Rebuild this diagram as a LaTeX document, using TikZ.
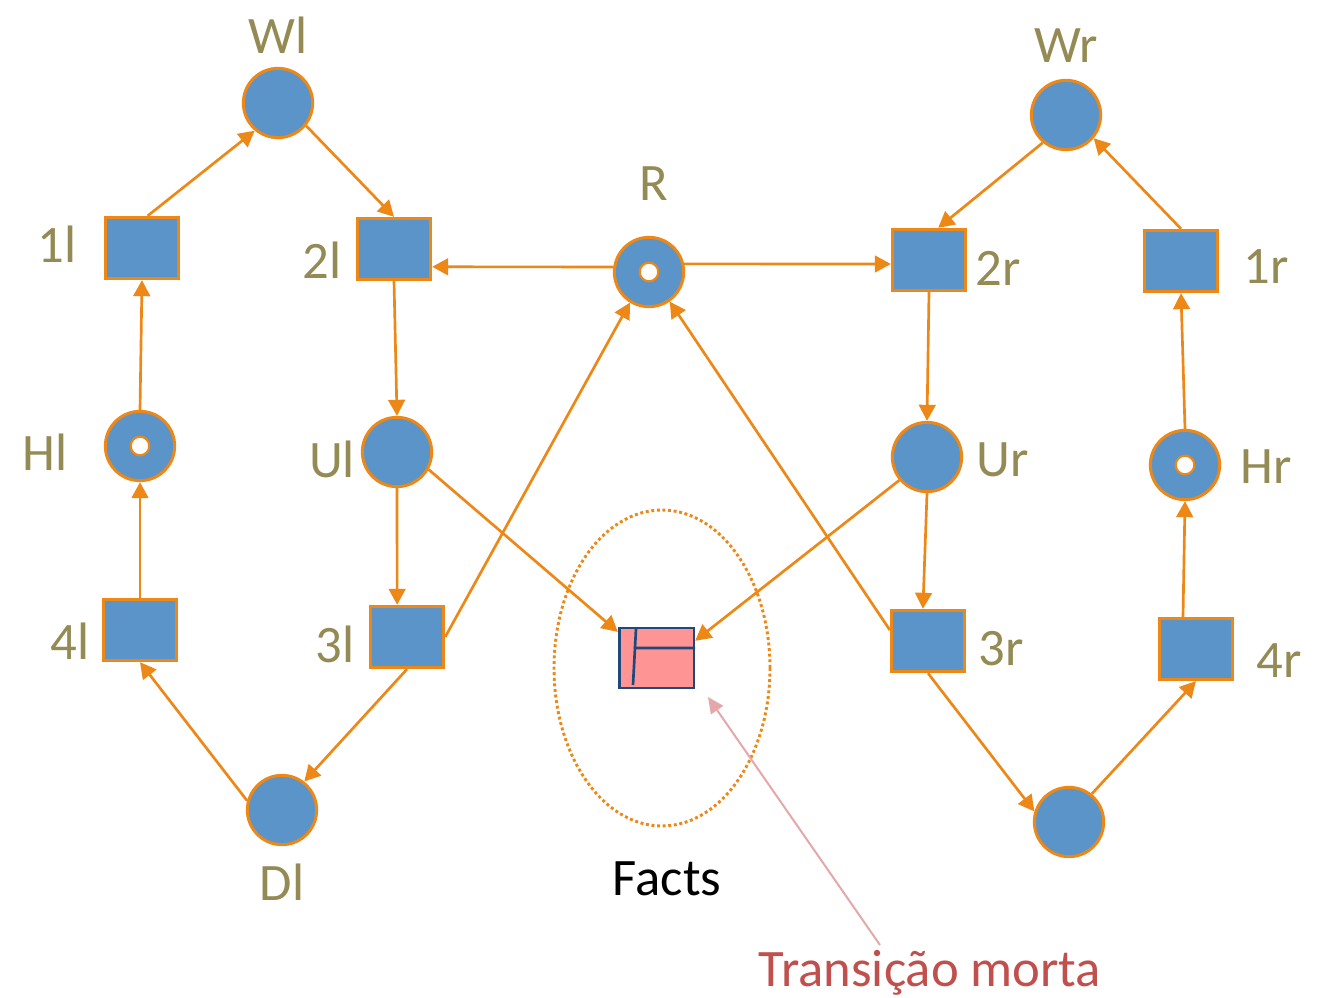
\documentclass[tikz,border=0pt]{standalone}
\usepackage{fontspec}
\setmainfont{Carlito}
\usetikzlibrary{arrows.meta}
\definecolor{placeblue}{RGB}{91,148,201}
\definecolor{arcorange}{RGB}{237,135,22}
\definecolor{labelolive}{RGB}{148,138,84}
\definecolor{deadfill}{RGB}{255,148,148}
\definecolor{deadline}{RGB}{31,73,125}
\definecolor{notepink}{RGB}{228,168,170}
\definecolor{notered}{RGB}{192,80,77}
\begin{document}
\begin{tikzpicture}[x=0.75pt,y=0.75pt,yscale=-1,xscale=1,
  place/.style={circle,draw=arcorange,fill=placeblue,line width=2.25pt,minimum size=52pt,inner sep=0pt},
  trans/.style={rectangle,draw=arcorange,fill=placeblue,line width=2.25pt,minimum width=55pt,minimum height=46pt,inner sep=0pt},
  token/.style={circle,draw=arcorange,fill=white,line width=1.6pt,minimum size=14pt,inner sep=0pt},
  lbl/.style={text=labelolive,font=\fontsize{39.5}{46}\selectfont,inner sep=0pt},
  arc/.style={draw=arcorange,line width=2pt,-{Triangle[length=12pt,width=12.5pt]}}]
\useasboundingbox (0,0) rectangle (1318,998);

%Shape: Circle [id:Wl] 
\node[place] (Wl) at (278,103) {};
\node[lbl] (lWl) at (278,35) {Wl};
%Shape: Circle [id:Wr] 
\node[place] (Wr) at (1066,115) {};
\node[lbl] (lWr) at (1066,46) {Wr};
%Shape: Circle [id:R] 
\node[place] (R) at (649,272) {};
\node[token] (tR) at (R) {};
\node[lbl] (lR) at (654,184) {R};
%Shape: Square [id:1l] 
\node[trans] (1l) at (142,248) {};
\node[lbl] (l1l) at (57,244) {1l};
%Shape: Square [id:2l] 
\node[trans] (2l) at (394,249) {};
\node[lbl] (l2l) at (322,260) {2l};
%Shape: Square [id:2r] 
\node[trans] (2r) at (929,260) {};
\node[lbl] (l2r) at (998,268) {2r};
%Shape: Square [id:1r] 
\node[trans] (1r) at (1181,261) {};
\node[lbl] (l1r) at (1266,267) {1r};
%Shape: Circle [id:Hl] 
\node[place] (Hl) at (140,446) {};
\node[token] (tHl) at (Hl) {};
\node[lbl] (lHl) at (45,452) {Hl};
%Shape: Circle [id:Ul] 
\node[place] (Ul) at (397,452) {};
\node[lbl] (lUl) at (332,459) {Ul};
%Shape: Circle [id:Ur] 
\node[place] (Ur) at (927,457) {};
\node[lbl] (lUr) at (1003,460) {Ur};
%Shape: Circle [id:Hr] 
\node[place] (Hr) at (1185,465) {};
\node[token] (tHr) at (Hr) {};
\node[lbl] (lHr) at (1266,467) {Hr};
%Shape: Square [id:4l] 
\node[trans] (4l) at (140,630) {};
\node[lbl] (l4l) at (70,641) {4l};
%Shape: Square [id:3l] 
\node[trans] (3l) at (407,637) {};
\node[lbl] (l3l) at (335,644) {3l};
%Shape: Square [id:3r] 
\node[trans] (3r) at (928,641) {};
\node[lbl] (l3r) at (1001,649) {3r};
%Shape: Square [id:4r] 
\node[trans] (4r) at (1196,649) {};
\node[lbl] (l4r) at (1279,661) {4r};
%Shape: Circle [id:Dl] 
\node[place] (Dl) at (282,810) {};
\node[lbl] (lDl) at (282,882) {Dl};
%Shape: Circle [id:Dr] 
\node[place] (Dr) at (1069,822) {};

%Shape: Ellipse [id:facts] 
\draw[arcorange,line width=2.2pt,dotted] (662,668) ellipse [x radius=108,y radius=158];
%Shape: Rectangle [id:dead] 
\node[rectangle,draw=deadline,fill=deadfill,line width=2pt,minimum width=56pt,minimum height=45pt,inner sep=0pt] (F) at (656.5,658) {};
\draw[deadline,line width=2pt] (636,629) -- (633,685) (636,648) -- (695,648);
\node[font=\fontsize{39.5}{46}\selectfont,inner sep=0pt] (lF) at (667,879) {Facts};

%Arcs
\draw[arc] (1l.80) -- (Wl.230);
\draw[arc] (Wl.321) -- (2l.north);
\draw[arc] (R.172) -- (2l.-25);
\draw[arc] (R.13) -- (2r.186);
\draw[arc] (Wr.230) -- (2r.74);
\draw[arc] (1r.north) -- (Wr.320);
\draw[arc] (2l.south) -- (Ul.north);
\draw[arc] (2r.south) -- (Ur.north);
\draw[arc] (Hl.north) -- (1l.south);
\draw[arc] (Hr.north) -- (1r.south);
\draw[arc] (Ul.south) -- (3l.107);
\draw[arc] (Ur.south) -- (3r.99);
\draw[arc] (4l.north) -- (Hl.south);
\draw[arc] (4r.112) -- (Hr.south);
\draw[arc] (Ul.331) -- (F.146);
\draw[arc] (Ur.220) -- (F.24);
\draw[arc] (3l.east) -- (R.238);
\draw[arc] (3r.164) -- (R.305);
\draw[arc] (3l.south) -- (Dl.52);
\draw[arc] (Dl.165) -- (4l.south);
\draw[arc] (3r.south) -- (Dr.163);
\draw[arc] (Dr.51) -- (4r.south);

%Note
\coordinate (noteTip) at (708,697);
\node[text=notered,font=\fontsize{39.5}{46}\selectfont,inner sep=0pt] (note) at (930,973) {Transição morta};
\draw[notepink,line width=1.5pt,-{Triangle[length=12pt,width=11pt]}] (880,945) -- (noteTip);

\end{tikzpicture}
\end{document}
